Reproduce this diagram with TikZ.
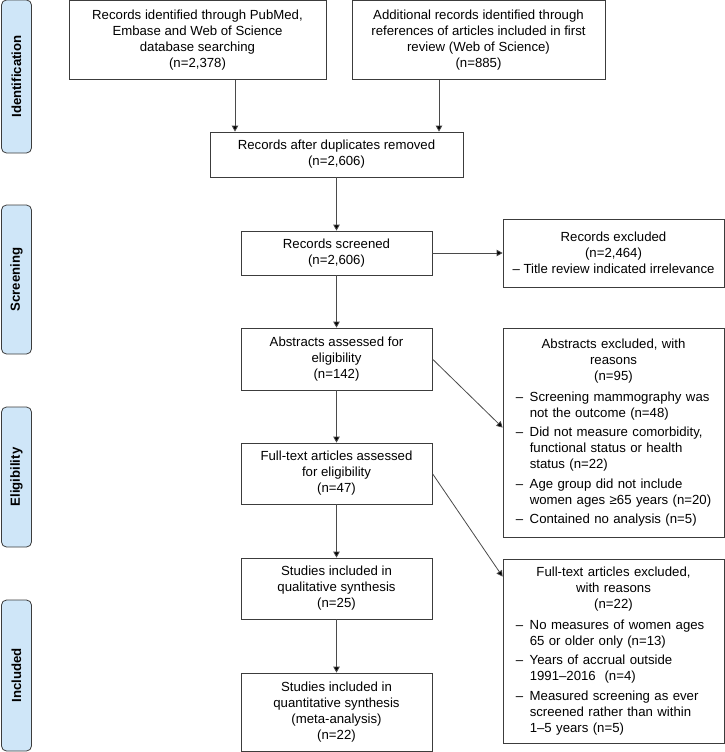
\documentclass[tikz,border=0pt]{standalone}
\usepackage{fontspec}
\setmainfont{Liberation Sans}
\usetikzlibrary{arrows.meta,calc}
\definecolor{phasefill}{HTML}{CFE6F8}
\definecolor{boxline}{HTML}{3C3C3C}
\definecolor{conn}{HTML}{4A4A4A}
\newcommand\itm[1]{\noindent\makebox[\linewidth][l]{\makebox[14pt][l]{–}\parbox[t]{210pt}{#1}}}
\begin{document}
\begin{tikzpicture}[x=1pt,y=-1pt,
  every node/.style={font=\fontsize{13.2}{16}\selectfont, text=black},
  box/.style={draw=boxline, line width=0.8pt, inner sep=0pt, align=center},
  exbox/.style={draw=boxline, line width=0.8pt, inner sep=0pt, text width=195.5pt, align=left, minimum width=221pt},
  phase/.style={draw=boxline, fill=phasefill, rounded corners=5pt, line width=0.8pt, minimum height=30pt, inner sep=0pt, rotate=90, font=\fontsize{13.2}{16}\selectfont\bfseries},
  arr/.style={draw=conn, line width=0.8pt, -{Triangle[length=6pt,width=6.5pt,fill=black]}}]
\useasboundingbox (0,0) rectangle (725,752);

% phase labels
\node[phase, minimum width=153pt] (pid) at (16.5,76.5) {Identification};
\node[phase, minimum width=149pt] (pscr) at (16.5,279.5) {Screening};
\node[phase, minimum width=140pt] (pel) at (16.5,477) {Eligibility};
\node[phase, minimum width=151pt] (pin) at (16.5,675.5) {Included};

% main boxes
\node[box, minimum width=257pt, minimum height=79pt] (b1) at (197.5,39.9) {Records identified through PubMed,\\Embase and Web of Science\\database searching\\(n=2,378)};
\node[box, minimum width=253pt, minimum height=79pt] (b2) at (478.5,39.9) {Additional records identified through\\references of articles included in first\\review (Web of Science)\\(n=885)};
\node[box, minimum width=253pt, minimum height=45pt] (dup) at (336.5,154.5) {Records after duplicates removed\\(n=2,606)};
\node[box, minimum width=191pt, minimum height=44pt] (scr) at (336.5,253) {Records screened\\(n=2,606)};
\node[box, minimum width=191pt, minimum height=62pt] (abs) at (336.5,359) {Abstracts assessed for\\eligibility\\(n=142)};
\node[box, minimum width=191pt, minimum height=61pt] (ft) at (336.5,473.5) {Full-text articles assessed\\for eligibility\\(n=47)};
\node[box, minimum width=191pt, minimum height=61pt] (qual) at (336.5,588.5) {Studies included in\\qualitative synthesis\\(n=25)};
\node[box, minimum width=191pt, minimum height=78pt] (quant) at (336.5,712) {Studies included in\\quantitative synthesis\\(meta-analysis)\\(n=22)};

% exclusion boxes
\node[box, minimum width=221pt, minimum height=68pt] (recx) at (613.5,253) {Records excluded\\(n=2,464)\\– Title review indicated irrelevance};
\node[exbox, minimum height=209pt] (absx) at (613.5,432.5) {{\centering Abstracts excluded, with\\reasons\\(n=95)\par}\vspace{5pt}
\itm{Screening mammography was\\not the outcome (n=48)}\\[6pt]
\itm{Did not measure comorbidity,\\functional status or health\\status (n=22)}\\[6pt]
\itm{Age group did not include\\women ages ≥65 years (n=20)}\\[6pt]
\itm{Contained no analysis (n=5)}};
\node[exbox, minimum height=184pt] (ftx) at (613.5,651) {{\centering Full-text articles excluded,\\with reasons\\(n=22)\par}\vspace{5pt}
\itm{No measures of women ages\\65 or older only (n=13)}\\[6pt]
\itm{Years of accrual outside\\1991–2016\ \ (n=4)}\\[6pt]
\itm{Measured screening as ever\\screened rather than within\\1–5 years (n=5)}};

% connectors
\coordinate (xa) at (235,0);
\coordinate (xb) at (439,0);
\draw[arr] (b1.south -| xa) -- (dup.north -| xa);
\draw[arr] (b2.south -| xb) -- (dup.north -| xb);
\draw[arr] (dup.south) -- (scr.north);
\draw[arr] (scr.east) -- (recx.west);
\draw[arr] (scr.south) -- (abs.north);
\draw[arr] (abs.east) -- ([yshift=-100pt]absx.north west);
\draw[arr] (abs.south) -- (ft.north);
\draw[arr] (ft.east) -- ([yshift=-18pt]ftx.north west);
\draw[arr] (ft.south) -- (qual.north);
\draw[arr] (qual.south) -- (quant.north);
\end{tikzpicture}
\end{document}
